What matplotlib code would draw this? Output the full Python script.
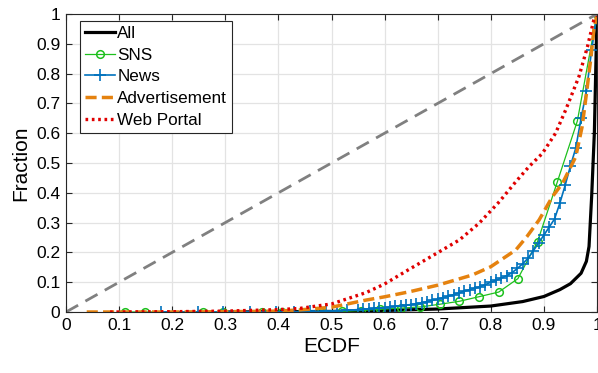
import matplotlib
matplotlib.use("Agg")
import matplotlib.pyplot as plt

plt.rcParams["font.family"] = ["Liberation Sans", "DejaVu Sans"]

# ECDF curves
all_x = [0.30, 0.50, 0.60, 0.70, 0.80, 0.86, 0.90, 0.93, 0.95, 0.97, 0.98, 0.985, 0.99, 0.995, 1.0]
all_y = [0.0, 0.002, 0.005, 0.010, 0.020, 0.035, 0.052, 0.075, 0.095, 0.13, 0.17, 0.22, 0.39, 0.60, 1.0]

sns_x = [0.111, 0.148, 0.258, 0.296, 0.370, 0.407, 0.445, 0.481, 0.519, 0.556, 0.592,
         0.630, 0.667, 0.704, 0.741, 0.777, 0.815, 0.851, 0.888, 0.925, 0.963, 1.0]
sns_y = [0.0, 0.0, 0.0, 0.0, 0.0, 0.0, 0.0, 0.0, 0.002, 0.005, 0.009,
         0.013, 0.017, 0.026, 0.036, 0.051, 0.067, 0.112, 0.236, 0.435, 0.641, 1.0]

news_x = [0.178, 0.249, 0.296, 0.346, 0.396, 0.43, 0.46, 0.49, 0.51, 0.53, 0.55, 0.56,
          0.57, 0.58, 0.59, 0.60, 0.61, 0.62, 0.63, 0.64, 0.65, 0.66, 0.67, 0.68, 0.69,
          0.70, 0.71, 0.72, 0.73, 0.74, 0.75, 0.76, 0.77, 0.78, 0.79, 0.80, 0.81, 0.82,
          0.83, 0.84, 0.85, 0.86, 0.87, 0.88, 0.89, 0.90, 0.91, 0.92, 0.93, 0.94, 0.95,
          0.96, 0.97, 0.98, 0.99, 1.0]
news_y = [0.0, 0.0, 0.0, 0.0, 0.001, 0.001, 0.002, 0.003, 0.004, 0.006, 0.008, 0.009,
          0.010, 0.012, 0.013, 0.015, 0.017, 0.019, 0.021, 0.023, 0.025, 0.028, 0.031, 0.035, 0.039,
          0.043, 0.048, 0.053, 0.058, 0.064, 0.070, 0.075, 0.080, 0.085, 0.092, 0.100, 0.107, 0.114,
          0.122, 0.132, 0.146, 0.162, 0.180, 0.205, 0.232, 0.258, 0.285, 0.312, 0.365, 0.425, 0.490,
          0.550, 0.650, 0.740, 0.880, 1.0]

ad_x = [0.039, 0.10, 0.20, 0.30, 0.40, 0.44, 0.50, 0.565, 0.60, 0.647, 0.70, 0.765, 0.80,
        0.847, 0.868, 0.891, 0.916, 0.935, 0.96, 0.972, 0.981, 0.988, 0.994, 1.0]
ad_y = [0.0, 0.0, 0.0, 0.001, 0.003, 0.007, 0.016, 0.040, 0.051, 0.068, 0.090, 0.124, 0.152,
        0.208, 0.253, 0.309, 0.387, 0.432, 0.521, 0.622, 0.745, 0.846, 0.946, 1.0]

web_x = [0.083, 0.20, 0.30, 0.40, 0.44, 0.50, 0.565, 0.60, 0.647, 0.70, 0.741, 0.778, 0.816,
         0.847, 0.872, 0.897, 0.922, 0.941, 0.966, 0.982, 0.994, 1.0]
web_y = [0.0, 0.001, 0.003, 0.008, 0.012, 0.027, 0.065, 0.094, 0.144, 0.199, 0.242, 0.298, 0.370,
         0.437, 0.488, 0.532, 0.600, 0.678, 0.790, 0.890, 0.980, 1.0]

ticks = [0, 0.1, 0.2, 0.3, 0.4, 0.5, 0.6, 0.7, 0.8, 0.9, 1]

fig = plt.figure(figsize=(5.98, 3.73), dpi=100)
ax = fig.add_axes([66 / 598, 61 / 373, 531 / 598, 298 / 373])

ax.plot(all_x, all_y, color="black", lw=2.3, label="All")
ax.plot(sns_x, sns_y, color="#1DC01D", lw=0.9, marker="o", ms=5.5, mfc="none", mew=1.1, label="SNS")
ax.plot(news_x, news_y, color="#0072BD", lw=1.2, marker="+", ms=8, mew=1.2, label="News")
ax.plot(ad_x, ad_y, color="#E5820F", lw=2.5, ls=(0, (3.2, 1.5)), label="Advertisement")
ax.plot(web_x, web_y, color="#E00000", lw=2.4, ls=(0, (0.8, 1.1)), label="Web Portal")
ax.plot([0, 1], [0, 1], color="#808080", lw=2.0, ls=(0, (5, 3)))

ax.set_xlim(0, 1)
ax.set_ylim(0, 1)
ax.set_xticks(ticks)
ax.set_yticks(ticks)
ax.set_xticklabels(["%g" % t for t in ticks])
ax.set_yticklabels(["%g" % t for t in ticks])
ax.tick_params(direction="in", length=4, width=0.8, top=True, right=True,
               labelsize=12.5, pad=4, color="#262626")
ax.grid(True, color="#E3E3E3", lw=0.9)
ax.set_axisbelow(True)
for s in ax.spines.values():
    s.set_color("#262626")
    s.set_linewidth(0.8)

ax.set_xlabel("ECDF", fontsize=15, labelpad=3)
ax.set_ylabel("Fraction", fontsize=15, labelpad=4)

leg = ax.legend(loc="upper left", bbox_to_anchor=(0.026, 0.978), borderaxespad=0,
                fontsize=12.3, handlelength=1.75, handletextpad=0.15, labelspacing=0.4,
                borderpad=0.3, fancybox=False, framealpha=1, edgecolor="#262626")
leg.get_frame().set_linewidth(0.8)

fig.savefig("out.png", dpi=100)
